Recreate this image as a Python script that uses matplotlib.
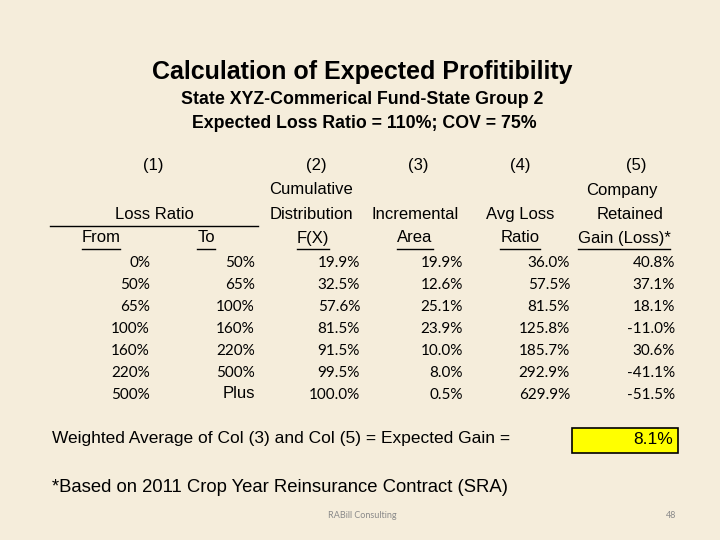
import matplotlib
matplotlib.use("Agg")
import matplotlib.pyplot as plt
from matplotlib.patches import Rectangle
from matplotlib.lines import Line2D

# Dados da tabela
loss_from = ["0%", "50%", "65%", "100%", "160%", "220%", "500%"]
loss_to = ["50%", "65%", "100%", "160%", "220%", "500%", "Plus"]
cum_dist = [19.9, 32.5, 57.6, 81.5, 91.5, 99.5, 100.0]
incr_area = [19.9, 12.6, 25.1, 23.9, 10.0, 8.0, 0.5]
avg_loss = [36.0, 57.5, 81.5, 125.8, 185.7, 292.9, 629.9]
gain_loss = [40.8, 37.1, 18.1, -11.0, 30.6, -41.1, -51.5]
expected_gain = 8.1

W, H = 720, 540
bg = "#f5eddb"
head_font = ["Liberation Sans Narrow", "Liberation Sans", "DejaVu Sans"]
body_font = ["Lato", "DejaVu Sans"]

fig = plt.figure(figsize=(7.2, 5.4), dpi=100)
fig.patch.set_facecolor(bg)


def px(x, y):
    return x / W, 1 - y / H


def txt(x, y, s, **kw):
    return fig.text(*px(x, y), s, va="center", **kw)


# Títulos
txt(362, 72, "Calculation of Expected Profitibility", ha="center",
    family="Liberation Sans", weight="bold", fontsize=18)
txt(362, 100, "State XYZ-Commerical Fund-State Group 2", ha="center",
    family="Liberation Sans", weight="bold", fontsize=12.8)
txt(364, 124, "Expected Loss Ratio = 110%; COV = 75%", ha="center",
    family="Liberation Sans", weight="bold", fontsize=12.8)

# Cabeçalhos das colunas
hs = 12
col_x = [153, 316, 418, 520, 636]
for i, x in enumerate(col_x):
    txt(x, 166, "(%d)" % (i + 1), ha="center", family=head_font, fontsize=hs)
txt(311, 190, "Cumulative", ha="center", family=head_font, fontsize=hs)
txt(622, 190, "Company", ha="center", family=head_font, fontsize=hs)
txt(154, 214, "Loss Ratio", ha="center", family=head_font, fontsize=hs)
txt(311, 214, "Distribution", ha="center", family=head_font, fontsize=hs)
txt(415, 214, "Incremental", ha="center", family=head_font, fontsize=hs)
txt(520, 214, "Avg Loss", ha="center", family=head_font, fontsize=hs)
txt(630, 214, "Retained", ha="center", family=head_font, fontsize=hs)
fig.add_artist(Line2D([50 / W, 258 / W], [1 - 226 / H] * 2, color="black", lw=1))

under = []
for x, s in [(101, "From"), (206, "To"), (313, "F(X)"), (415, "Area"),
             (520, "Ratio"), (624, "Gain (Loss)*")]:
    under.append(txt(x, 238, s, ha="center", family=head_font, fontsize=hs))

fig.canvas.draw()
r = fig.canvas.get_renderer()
for t in under:
    bb = t.get_window_extent(r)
    fig.add_artist(Line2D([bb.x0 / W, bb.x1 / W], [1 - 249 / H] * 2,
                          color="black", lw=1))

# Linhas de dados
ds = 11
right_x = [150, 255, 360, 463, 570, 675]
for i in range(len(loss_from)):
    y = 263 + 22 * i
    txt(right_x[0], y, loss_from[i], ha="right", family=body_font, fontsize=ds)
    if loss_to[i] == "Plus":
        txt(right_x[1], y - 2, loss_to[i], ha="right", family="Liberation Sans", fontsize=12)
    else:
        txt(right_x[1], y, loss_to[i], ha="right", family=body_font, fontsize=ds)
    txt(right_x[2], y, "%.1f%%" % cum_dist[i], ha="right", family=body_font, fontsize=ds)
    txt(right_x[3], y, "%.1f%%" % incr_area[i], ha="right", family=body_font, fontsize=ds)
    txt(right_x[4], y, "%.1f%%" % avg_loss[i], ha="right", family=body_font, fontsize=ds)
    txt(right_x[5], y, "%.1f%%" % gain_loss[i], ha="right", family=body_font, fontsize=ds)

# Resultado
txt(52, 439, "Weighted Average of Col (3) and Col (5) = Expected Gain =",
    ha="left", family="Liberation Sans", fontsize=12.5)
fig.add_artist(Rectangle((572 / W, 1 - 453 / H), 106 / W, 25 / H,
                         facecolor="#ffff00", edgecolor="black", lw=1.2))
txt(673, 440, "%.1f%%" % expected_gain, ha="right", family="Liberation Sans", fontsize=12.5)

txt(52, 487, "*Based on 2011 Crop Year Reinsurance Contract (SRA)",
    ha="left", family="Liberation Sans", fontsize=13.3)

# Rodapé
txt(362, 515, "RABill Consulting", ha="center", family=body_font, fontsize=6.5, color="#8a8a8a")
txt(671, 515, "48", ha="center", family=body_font, fontsize=6.5, color="#8a8a8a")

fig.savefig("out.png", dpi=100, facecolor=bg)
